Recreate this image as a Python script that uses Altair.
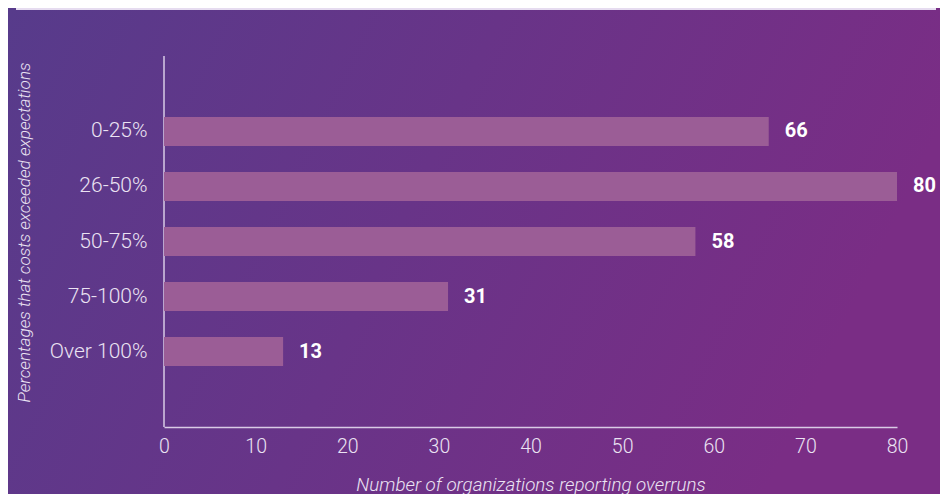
import altair as alt
import pandas as pd

categories = ["0-25%", "26-50%", "50-75%", "75-100%", "Over 100%"]
values = [66, 80, 58, 31, 13]
x_ticks = [0, 10, 20, 30, 40, 50, 60, 70, 80]

df = pd.DataFrame({"cat": categories, "val": values})

LABEL = "#ebe3f3"
AXIS = "#d9cbe6"
W, H = 733, 371
PL, PT, PR, PB = 156, 48, 43, 67

bg = alt.Chart(alt.Data(values=[{}])).mark_rect(
    color=alt.LinearGradient(
        gradient="linear",
        stops=[alt.GradientStop(color="#573b8b", offset=0),
               alt.GradientStop(color="#683488", offset=0.5),
               alt.GradientStop(color="#7a2d85", offset=1)],
        x1=0, y1=0, x2=1, y2=0.25,
    ),
    clip=False,
).encode(
    x=alt.value(-PL), x2=alt.value(W + PR),
    y=alt.value(-PT), y2=alt.value(H + PB),
)

topline = alt.Chart(alt.Data(values=[{}])).mark_rule(
    color="#e6dcf0", strokeWidth=2, clip=False
).encode(
    x=alt.value(16 - 8 - PL), x2=alt.value(936 - 8 - PL), y=alt.value(1 - PT)
)

yline = alt.Chart(alt.Data(values=[{}])).mark_rule(
    color=AXIS, strokeWidth=1.5, clip=False
).encode(
    x=alt.value(0), y=alt.value(0), y2=alt.value(H)
)

ysc = alt.Scale(paddingInner=0.473, paddingOuter=0, range=[61, 310])
xsc = alt.Scale(domain=[0, 80], nice=False)

bars = alt.Chart(df).mark_bar(color="#9b5d96").encode(
    x=alt.X("val:Q", scale=xsc,
            axis=alt.Axis(values=x_ticks, title="Number of organizations reporting overruns",
                          titleY=63, titleBaseline="alphabetic", titleFontSize=18.8,
                          zindex=2, labelPadding=10, labelFlush=False,
                          grid=False, ticks=False)),
    y=alt.Y("cat:N", sort=categories, scale=ysc,
            axis=alt.Axis(title="Percentages that costs exceeded expectations",
                          titleX=-140, titleY=176, titleAngle=-90, titleAlign="center",
                          titleBaseline="middle", titleFontSize=17.2,
                          zindex=2, domain=False, labelFontSize=21,
                          labelPadding=17, ticks=False, grid=False)),
)

text = alt.Chart(df).mark_text(
    align="left", baseline="middle", dx=16, font="Roboto", fontSize=20,
    fontWeight="bold", color="#ffffff"
).encode(
    x=alt.X("val:Q", scale=xsc),
    y=alt.Y("cat:N", sort=categories, scale=ysc),
    text="val:Q",
)

chart = alt.layer(bg, topline, yline, bars, text).properties(
    width=W, height=H,
    autosize=alt.AutoSizeParams(type="none"),
    padding={"left": PL, "top": PT, "right": PR, "bottom": PB},
    background="#683488",
).configure_view(stroke=None).configure_axis(
    domainColor=AXIS, domainWidth=1.5,
    labelFont="Roboto", labelFontSize=19.5, labelFontWeight=300, labelColor=LABEL,
    titleFont="Roboto", titleFontSize=18, titleFontWeight=300, titleFontStyle="italic",
    titleColor=LABEL,
)

chart.save("out.html", embed_options={"renderer": "svg", "actions": False})
